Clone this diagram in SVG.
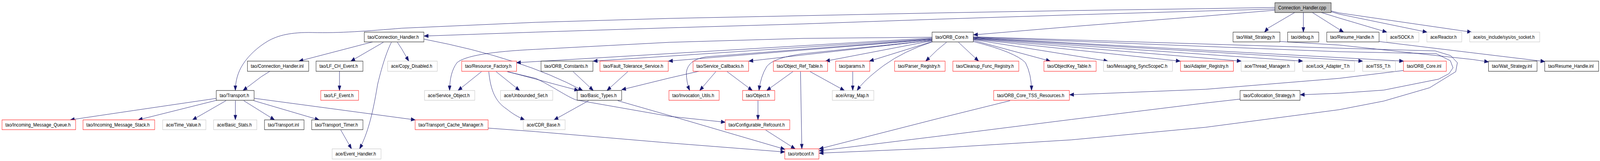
<svg xmlns="http://www.w3.org/2000/svg" width="4779" height="411" viewBox="0 0 4779 411" preserveAspectRatio="none">
<style>
:root{width:100vw;height:100vh}
.n rect{fill:#fff;stroke:#000;stroke-width:1}
.n.r rect{stroke:#ff0000}
.n.g rect{stroke:#bfbfbf}
.n.c rect{fill:#bfbfbf;stroke:#000}
.n text{font-family:"Liberation Sans",Arial,sans-serif;font-size:13px;fill:#000}
#edges path{fill:none;stroke:#191970;stroke-width:1;marker-end:url(#a)}
</style>
<defs>
<marker id="a" markerWidth="13" markerHeight="10" refX="12" refY="4.5" orient="auto" markerUnits="userSpaceOnUse" overflow="visible">
<path d="M0,0 L12,4.5 L0,9 z" fill="#191970" stroke="#191970" stroke-width="1"/>
</marker>
</defs>
<rect width="4779" height="411" fill="#fff"/>
<g id="edges">
<path d="M3867,32 L3787,72 L3777,82"/>
<path d="M3893,32 L3893,82"/>
<path d="M3920,32 L4013,82"/>
<path d="M3947,32 L4000,46 L4142,82"/>
<path d="M3976,30 L4000,36 L4262,82"/>
<path d="M3976,28 L4000,33 L4395,82"/>
<path d="M3808,26 L3600,41 L3200,68 L2908,89"/>
<path d="M3808,23 L3600,28 L3200,38 L2800,49 L2400,61 L2000,71 L1600,82 L1267,92"/>
<path d="M3808,19 L3600,22 L3200,27 L2800,33 L2400,40 L2000,47 L1600,57 L1200,72 C1100,79 1013,85 933,83 C870,82 830,90 800,105 C770,120 742,142 725,165 C710,185 703,208 703,231"/>
<path d="M1113,107 L1077,115 L893,156"/>
<path d="M1145,108 L1048,156"/>
<path d="M1169,108 C1150,140 1135,190 1128,215 C1118,265 1105,330 1074,380"/>
<path d="M1187,108 L1200,125 L1221,156"/>
<path d="M1267,100 Q1560,148 1740,231"/>
<path d="M806,182 L780,196 L726,231"/>
<path d="M1014,182 L1014,231"/>
<path d="M647,251 L400,282 L210,306"/>
<path d="M647,256 L413,306"/>
<path d="M675,257 L575,306"/>
<path d="M703,257 L703,306"/>
<path d="M728,257 L820,306"/>
<path d="M758,257 L953,306"/>
<path d="M760,251 L1240,306"/>
<path d="M1018,332 L1050,380"/>
<path d="M1438,183 L1368,231"/>
<path d="M1482,183 L1552,231"/>
<path d="M1460,183 C1465,230 1480,260 1513,278 C1530,290 1548,299 1567,306"/>
<path d="M1517,183 L1728,231"/>
<path d="M1515,183 L1600,200 C1650,220 1690,245 1720,255 L2000,297 L2166,312"/>
<path d="M1758,257 L1655,306"/>
<path d="M1845,257 L2000,295 L2344,381"/>
<path d="M1458,327 L1600,336 L2000,365 L2344,388"/>
<path d="M1712,183 L1772,231"/>
<path d="M1875,183 L1813,231"/>
<path d="M2087,182 L2000,199 L1857,229"/>
<path d="M2138,183 L2090,231"/>
<path d="M2172,183 L2247,231"/>
<path d="M2368,183 L2290,231"/>
<path d="M2391,183 L2395,380"/>
<path d="M2420,183 L2522,231"/>
<path d="M2547,183 L2547,231"/>
<path d="M2264,257 L2264,306"/>
<path d="M2287,332 L2375,380"/>
<path d="M3017,257 L2800,303 L2447,380"/>
<path d="M3704,253 L3600,263 L3200,305 L2800,348 L2447,385"/>
<path d="M4192,180 L4000,200 L3600,228 L3195,242"/>
<path d="M3823,106 L4000,115 L4400,152 L4446,158"/>
<path d="M4119,106 L4400,135 L4614,157"/>
<path d="M2784,95 L2400,98 L2000,108 L1600,126 Q1400,134 1365,160 Q1343,185 1343,231"/>
<path d="M2784,97 L1543,160"/>
<path d="M2784,99 L1772,156"/>
<path d="M2784,101 L1997,156"/>
<path d="M2784,103 L2237,156"/>
<path d="M2784,100 L2110,145 Q2055,152 2050,185 Q2050,210 2060,231"/>
<path d="M2784,103 L2400,137 Q2310,147 2290,170 Q2272,195 2267,231"/>
<path d="M2784,104 L2466,156"/>
<path d="M2785,106 L2597,156"/>
<path d="M2784,107 Q2700,130 2640,167 Q2580,205 2560,231"/>
<path d="M2827,108 L2800,127 L2765,156"/>
<path d="M2863,108 L2923,156"/>
<path d="M2907,106 Q3033,133 3063,160 Q3081,190 3081,231"/>
<path d="M2907,103 L3137,156"/>
<path d="M2907,101 L3309,156"/>
<path d="M2907,100 L3525,156"/>
<path d="M2907,99 L3707,156"/>
<path d="M2907,98 L3891,156"/>
<path d="M2907,97 L4070,156"/>
<path d="M2907,96 L4192,156"/>
<path d="M2907,95 L4000,132 L4290,137 L4332,155 L4340,173 L4328,188 L4297,202 L4133,230 L4000,238 L3884,242"/>
<path d="M2907,94 L4000,123 L4287,130 L4333,142 L4353,160 L4348,183 L4270,224 L4133,258 L4000,280 L3600,325 L3200,357 L2800,378 L2447,391"/>
</g>
<g id="n0" class="n c"><rect x="3808" y="7" width="168" height="25"/><text x="3818" y="24" textLength="143" lengthAdjust="spacingAndGlyphs">Connection_Handler.cpp</text></g>
<g id="n1" class="n"><rect x="1088" y="82" width="178" height="25"/><text x="1098" y="99" textLength="153" lengthAdjust="spacingAndGlyphs">tao/Connection_Handler.h</text></g>
<g id="n2" class="n"><rect x="2784" y="82" width="123" height="25"/><text x="2794" y="99" textLength="98" lengthAdjust="spacingAndGlyphs">tao/ORB_Core.h</text></g>
<g id="n3" class="n"><rect x="3683" y="82" width="140" height="25"/><text x="3693" y="99" textLength="115" lengthAdjust="spacingAndGlyphs">tao/Wait_Strategy.h</text></g>
<g id="n4" class="n"><rect x="3846" y="82" width="93" height="25"/><text x="3856" y="99" textLength="68" lengthAdjust="spacingAndGlyphs">tao/debug.h</text></g>
<g id="n5" class="n"><rect x="3963" y="82" width="156" height="25"/><text x="3973" y="99" textLength="131" lengthAdjust="spacingAndGlyphs">tao/Resume_Handle.h</text></g>
<g id="n6" class="n g"><rect x="4142" y="82" width="96" height="25"/><text x="4152" y="99" textLength="71" lengthAdjust="spacingAndGlyphs">ace/SOCK.h</text></g>
<g id="n7" class="n g"><rect x="4262" y="82" width="104" height="25"/><text x="4272" y="99" textLength="79" lengthAdjust="spacingAndGlyphs">ace/Reactor.h</text></g>
<g id="n8" class="n g"><rect x="4390" y="82" width="209" height="25"/><text x="4400" y="99" textLength="184" lengthAdjust="spacingAndGlyphs">ace/os_include/sys/os_socket.h</text></g>
<g id="n9" class="n"><rect x="739" y="156" width="183" height="26"/><text x="749" y="173" textLength="158" lengthAdjust="spacingAndGlyphs">tao/Connection_Handler.inl</text></g>
<g id="n10" class="n"><rect x="944" y="156" width="140" height="26"/><text x="954" y="173" textLength="115" lengthAdjust="spacingAndGlyphs">tao/LF_CH_Event.h</text></g>
<g id="n11" class="n g"><rect x="1158" y="156" width="148" height="26"/><text x="1168" y="173" textLength="123" lengthAdjust="spacingAndGlyphs">ace/Copy_Disabled.h</text></g>
<g id="n12" class="n r"><rect x="1379" y="156" width="164" height="26"/><text x="1389" y="173" textLength="139" lengthAdjust="spacingAndGlyphs">tao/Resource_Factory.h</text></g>
<g id="n13" class="n"><rect x="1616" y="156" width="155" height="26"/><text x="1626" y="173" textLength="130" lengthAdjust="spacingAndGlyphs">tao/ORB_Constants.h</text></g>
<g id="n14" class="n r"><rect x="1792" y="156" width="204" height="26"/><text x="1802" y="173" textLength="179" lengthAdjust="spacingAndGlyphs">tao/Fault_Tolerance_Service.h</text></g>
<g id="n15" class="n r"><rect x="2070" y="156" width="166" height="26"/><text x="2080" y="173" textLength="141" lengthAdjust="spacingAndGlyphs">tao/Service_Callbacks.h</text></g>
<g id="n16" class="n r"><rect x="2310" y="156" width="162" height="26"/><text x="2320" y="173" textLength="137" lengthAdjust="spacingAndGlyphs">tao/Object_Ref_Table.h</text></g>
<g id="n17" class="n r"><rect x="2496" y="156" width="102" height="26"/><text x="2506" y="173" textLength="77" lengthAdjust="spacingAndGlyphs">tao/params.h</text></g>
<g id="n18" class="n r"><rect x="2672" y="156" width="151" height="26"/><text x="2682" y="173" textLength="126" lengthAdjust="spacingAndGlyphs">tao/Parser_Registry.h</text></g>
<g id="n19" class="n r"><rect x="2846" y="156" width="197" height="26"/><text x="2856" y="173" textLength="172" lengthAdjust="spacingAndGlyphs">tao/Cleanup_Func_Registry.h</text></g>
<g id="n20" class="n r"><rect x="3118" y="156" width="156" height="26"/><text x="3128" y="173" textLength="131" lengthAdjust="spacingAndGlyphs">tao/ObjectKey_Table.h</text></g>
<g id="n21" class="n g"><rect x="3296" y="156" width="206" height="26"/><text x="3306" y="173" textLength="181" lengthAdjust="spacingAndGlyphs">tao/Messaging_SyncScopeC.h</text></g>
<g id="n22" class="n r"><rect x="3526" y="156" width="158" height="26"/><text x="3536" y="173" textLength="133" lengthAdjust="spacingAndGlyphs">tao/Adapter_Registry.h</text></g>
<g id="n23" class="n g"><rect x="3707" y="156" width="160" height="26"/><text x="3717" y="173" textLength="135" lengthAdjust="spacingAndGlyphs">ace/Thread_Manager.h</text></g>
<g id="n24" class="n g"><rect x="3891" y="156" width="155" height="26"/><text x="3901" y="173" textLength="130" lengthAdjust="spacingAndGlyphs">ace/Lock_Adapter_T.h</text></g>
<g id="n25" class="n g"><rect x="4070" y="156" width="98" height="26"/><text x="4080" y="173" textLength="73" lengthAdjust="spacingAndGlyphs">ace/TSS_T.h</text></g>
<g id="n26" class="n r"><rect x="4192" y="156" width="128" height="26"/><text x="4202" y="173" textLength="103" lengthAdjust="spacingAndGlyphs">tao/ORB_Core.inl</text></g>
<g id="n27" class="n"><rect x="4446" y="156" width="145" height="26"/><text x="4456" y="173" textLength="120" lengthAdjust="spacingAndGlyphs">tao/Wait_Strategy.inl</text></g>
<g id="n28" class="n"><rect x="4614" y="156" width="161" height="26"/><text x="4624" y="173" textLength="136" lengthAdjust="spacingAndGlyphs">tao/Resume_Handle.inl</text></g>
<g id="n29" class="n"><rect x="646" y="231" width="113" height="25"/><text x="656" y="248" textLength="88" lengthAdjust="spacingAndGlyphs">tao/Transport.h</text></g>
<g id="n30" class="n r"><rect x="958" y="231" width="113" height="25"/><text x="968" y="248" textLength="88" lengthAdjust="spacingAndGlyphs">tao/LF_Event.h</text></g>
<g id="n31" class="n g"><rect x="1268" y="231" width="150" height="25"/><text x="1278" y="248" textLength="125" lengthAdjust="spacingAndGlyphs">ace/Service_Object.h</text></g>
<g id="n32" class="n g"><rect x="1495" y="231" width="156" height="25"/><text x="1505" y="248" textLength="131" lengthAdjust="spacingAndGlyphs">ace/Unbounded_Set.h</text></g>
<g id="n33" class="n"><rect x="1724" y="231" width="133" height="25"/><text x="1734" y="248" textLength="108" lengthAdjust="spacingAndGlyphs">tao/Basic_Types.h</text></g>
<g id="n34" class="n r"><rect x="1998" y="231" width="150" height="25"/><text x="2008" y="248" textLength="125" lengthAdjust="spacingAndGlyphs">tao/Invocation_Utils.h</text></g>
<g id="n35" class="n r"><rect x="2218" y="231" width="96" height="25"/><text x="2228" y="248" textLength="71" lengthAdjust="spacingAndGlyphs">tao/Object.h</text></g>
<g id="n36" class="n g"><rect x="2486" y="231" width="124" height="25"/><text x="2496" y="248" textLength="99" lengthAdjust="spacingAndGlyphs">ace/Array_Map.h</text></g>
<g id="n37" class="n r"><rect x="2968" y="231" width="226" height="25"/><text x="2978" y="248" textLength="201" lengthAdjust="spacingAndGlyphs">tao/ORB_Core_TSS_Resources.h</text></g>
<g id="n38" class="n"><rect x="3704" y="231" width="179" height="25"/><text x="3714" y="248" textLength="154" lengthAdjust="spacingAndGlyphs">tao/Collocation_Strategy.h</text></g>
<g id="n39" class="n r"><rect x="6" y="306" width="220" height="25"/><text x="16" y="323" textLength="195" lengthAdjust="spacingAndGlyphs">tao/Incoming_Message_Queue.h</text></g>
<g id="n40" class="n r"><rect x="248" y="306" width="214" height="25"/><text x="258" y="323" textLength="189" lengthAdjust="spacingAndGlyphs">tao/Incoming_Message_Stack.h</text></g>
<g id="n41" class="n g"><rect x="486" y="306" width="129" height="25"/><text x="496" y="323" textLength="104" lengthAdjust="spacingAndGlyphs">ace/Time_Value.h</text></g>
<g id="n42" class="n g"><rect x="638" y="306" width="129" height="25"/><text x="648" y="323" textLength="104" lengthAdjust="spacingAndGlyphs">ace/Basic_Stats.h</text></g>
<g id="n43" class="n"><rect x="790" y="306" width="118" height="25"/><text x="800" y="323" textLength="93" lengthAdjust="spacingAndGlyphs">tao/Transport.inl</text></g>
<g id="n44" class="n"><rect x="931" y="306" width="153" height="25"/><text x="941" y="323" textLength="128" lengthAdjust="spacingAndGlyphs">tao/Transport_Timer.h</text></g>
<g id="n45" class="n r"><rect x="1240" y="306" width="218" height="25"/><text x="1250" y="323" textLength="193" lengthAdjust="spacingAndGlyphs">tao/Transport_Cache_Manager.h</text></g>
<g id="n46" class="n g"><rect x="1563" y="306" width="125" height="25"/><text x="1573" y="323" textLength="100" lengthAdjust="spacingAndGlyphs">ace/CDR_Base.h</text></g>
<g id="n47" class="n r"><rect x="2166" y="306" width="193" height="25"/><text x="2176" y="323" textLength="168" lengthAdjust="spacingAndGlyphs">tao/Configurable_Refcount.h</text></g>
<g id="n48" class="n g"><rect x="992" y="380" width="146" height="26"/><text x="1002" y="397" textLength="121" lengthAdjust="spacingAndGlyphs">ace/Event_Handler.h</text></g>
<g id="n49" class="n r"><rect x="2344" y="380" width="102" height="26"/><text x="2354" y="397" textLength="77" lengthAdjust="spacingAndGlyphs">tao/orbconf.h</text></g>
</svg>
